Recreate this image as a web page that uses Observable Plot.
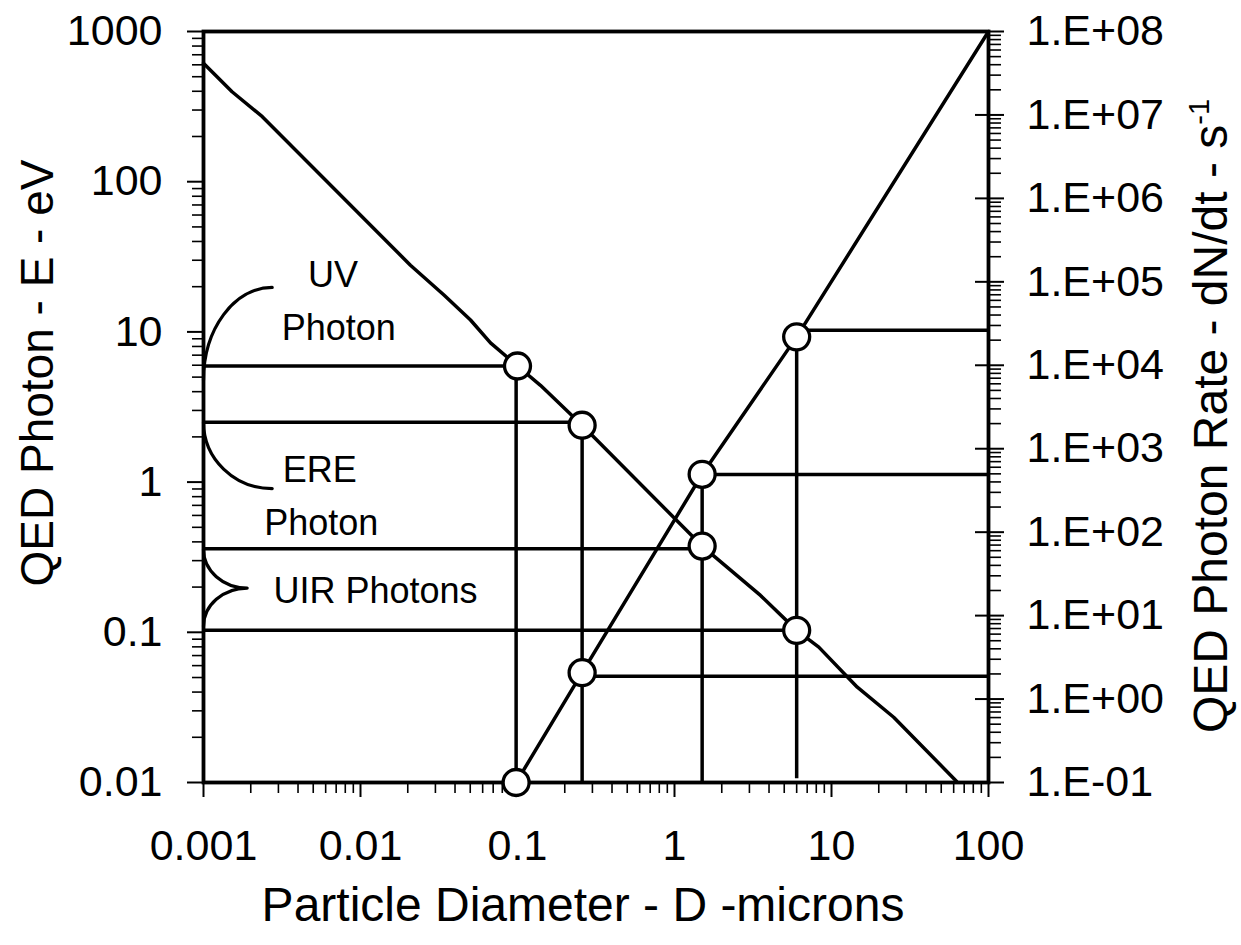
<!DOCTYPE html>
<html><head><meta charset="utf-8">
<script src="https://cdn.jsdelivr.net/npm/d3@7"></script>
<script src="https://cdn.jsdelivr.net/npm/@observablehq/plot@0.6"></script>
<style>body{margin:0;background:#fff;color:#000;}</style>
</head><body><div id="chart"></div>
<script>
// ---- data ----
const energyD = [0.001, 0.00152, 0.00237, 0.0208, 0.034, 0.0502, 0.0673, 0.1, 0.140, 0.258, 1.5, 3.53, 6.0, 8.3, 14.6, 24.9, 62.5];
const energyE = [614, 397, 271, 27.8, 17.6, 12.0, 8.45, 5.93, 4.41, 2.39, 0.375, 0.176, 0.103, 0.0797, 0.0431, 0.0272, 0.0102];
const rateD = [0.098, 0.258, 1.5, 6.0, 100];
const rateR = [0.1, 2.07, 494, 21900, 1e8];
const markerED = [0.1, 0.258, 1.5, 6.0];
const markerE = [5.93, 2.39, 0.375, 0.103];
const markerRD = [0.098, 0.258, 1.5, 6.0];
const markerR = [0.1, 2.07, 494, 21900];
const photonLineD = [0.1, 0.258, 1.5, 6.0];
const photonLineE = [5.93, 2.5, 0.36, 0.103];
const rateLineD = [0.258, 1.5, 6.0];
const rateLineR = [1.87, 490, 26300];
const guideD = [0.098, 0.258, 1.5, 6.0];
const guideTopE = [5.93, 2.39, null, null];
const guideTopR = [null, null, 494, 21900];
const guideBottomE = [0.01, 0.01, 0.01, 0.0106];

const xTicks = [0.001, 0.01, 0.1, 1, 10, 100];
const xTickLabels = ["0.001", "0.01", "0.1", "1", "10", "100"];
const yTicks = [0.01, 0.1, 1, 10, 100, 1000];
const yTickLabels = ["0.01", "0.1", "1", "10", "100", "1000"];
const rTicks = [1e-1, 1e0, 1e1, 1e2, 1e3, 1e4, 1e5, 1e6, 1e7, 1e8];
const rTickLabels = ["1.E-01", "1.E+00", "1.E+01", "1.E+02", "1.E+03", "1.E+04", "1.E+05", "1.E+06", "1.E+07", "1.E+08"];

const eDomain = [0.01, 1000];
const rDomain = [0.1, 1e8];
const dDomain = [0.001, 100];

// bracket annotations (start, corner, end ...)
const bracketUV = [[0.001, 4.77], [0.001, 19.77], [0.002739, 19.77]];
const bracketERE = [[0.001, 2.513], [0.001, 0.905], [0.002739, 0.905]];
const bracketUIR = [[0.001, 0.3566], [0.001, 0.197], [0.0018977, 0.197], [0.001, 0.197], [0.001, 0.1095]];

const labelText = ["UV", "Photon", "ERE", "Photon", "UIR Photons"];
const labelD = [0.00668, 0.007274, 0.005506, 0.005619, 0.012463];
const labelE = [19.94, 8.805, 1.0, 0.442, 0.1565];

// ---- helpers ----
function rateToE(r) {
  const t = (Math.log10(r) - Math.log10(rDomain[0])) / (Math.log10(rDomain[1]) - Math.log10(rDomain[0]));
  return Math.pow(10, Math.log10(eDomain[0]) + t * (Math.log10(eDomain[1]) - Math.log10(eDomain[0])));
}
function minors(lo, hi) {
  const out = [];
  for (let e = lo; e < hi; e++) for (let m = 2; m <= 9; m++) out.push(m * Math.pow(10, e));
  return out;
}
function lookup(ticks, labels) {
  return d => {
    const i = ticks.findIndex(v => Math.abs(Math.log10(v) - Math.log10(d)) < 1e-6);
    return i >= 0 ? labels[i] : "";
  };
}
// quarter-ellipse curve: points given as start, corner, end, corner, end ...
function quarterCurve(context) {
  let pts = [];
  return {
    areaStart() {}, areaEnd() {},
    lineStart() { pts = []; },
    point(x, y) { pts.push([+x, +y]); },
    lineEnd() {
      if (!pts.length) return;
      const k = 0.5523;
      context.moveTo(pts[0][0], pts[0][1]);
      for (let i = 1; i + 1 < pts.length; i += 2) {
        const p0 = pts[i - 1], c = pts[i], p2 = pts[i + 1];
        context.bezierCurveTo(
          p0[0] + k * (c[0] - p0[0]), p0[1] + k * (c[1] - p0[1]),
          p2[0] + k * (c[0] - p2[0]), p2[1] + k * (c[1] - p2[1]),
          p2[0], p2[1]);
      }
    }
  };
}

// ---- tables ----
const energy = energyD.map((d, i) => ({D: d, E: energyE[i]}));
const rate = rateD.map((d, i) => ({D: d, E: rateToE(rateR[i])}));
const markers = [
  ...markerED.map((d, i) => ({D: d, E: markerE[i]})),
  ...markerRD.map((d, i) => ({D: d, E: rateToE(markerR[i])}))
];
const leftLines = photonLineD.map((d, i) => ({x1: dDomain[0], x2: d, E: photonLineE[i]}));
const rightLines = rateLineD.map((d, i) => ({x1: d, x2: dDomain[1], E: rateToE(rateLineR[i])}));
const guides = guideD.map((d, i) => ({D: d, y1: guideBottomE[i], y2: guideTopE[i] != null ? guideTopE[i] : rateToE(guideTopR[i])}));
const brackets = [
  ...bracketUV.map(p => ({z: "UV", D: p[0], E: p[1]})),
  ...bracketERE.map(p => ({z: "ERE", D: p[0], E: p[1]})),
  ...bracketUIR.map(p => ({z: "UIR", D: p[0], E: p[1]}))
];
const labels = labelText.map((t, i) => ({t, D: labelD[i], E: labelE[i]}));
const rightTickTable = rTicks.map((r, i) => ({E: rateToE(r), label: rTickLabels[i]}));
const rTicksE = rightTickTable.map(d => d.E);

const W = 3.5;
const FS = 43;
const chart = Plot.plot({
  width: 1241, height: 945,
  marginLeft: 203, marginRight: 253, marginTop: 31, marginBottom: 163,
  style: {fontFamily: '"Liberation Sans", Arial, sans-serif', fontSize: FS + "px", background: "white", color: "black", overflow: "visible"},
  x: {type: "log", domain: dDomain, axis: null, label: null},
  y: {type: "log", domain: eDomain, axis: null, label: null},
  marks: [
    // axes: left
    Plot.axisY(minors(-2, 3), {anchor: "left", tickSize: 11, strokeWidth: 1.6, tickFormat: () => "", label: null}),
    Plot.axisY(yTicks, {anchor: "left", tickSize: 16, tickPadding: 25, strokeWidth: 2, tickFormat: lookup(yTicks, yTickLabels), fontSize: FS, label: null}),
    // bottom
    Plot.axisX(minors(-3, 2), {anchor: "bottom", tickSize: 11, strokeWidth: 1.6, tickFormat: () => "", label: null}),
    Plot.axisX(xTicks, {anchor: "bottom", tickSize: 15, tickPadding: 32, strokeWidth: 2, tickFormat: lookup(xTicks, xTickLabels), fontSize: FS, label: null}),
    // right
    Plot.axisY(minors(-1, 8).map(rateToE), {anchor: "right", tickSize: 12, strokeWidth: 1.6, tickFormat: () => "", label: null}),
    Plot.axisY(rTicksE, {anchor: "right", tickSize: 29, dx: -14, strokeWidth: 2, tickFormat: () => "", label: null}),
    Plot.text(rightTickTable, {y: "E", text: "label", frameAnchor: "right", textAnchor: "start", lineAnchor: "middle", dx: 38, fontSize: FS, fill: "black"}),
    // guide lines
    Plot.ruleY(leftLines, {y: "E", x1: "x1", x2: "x2", stroke: "black", strokeWidth: W}),
    Plot.ruleY(rightLines, {y: "E", x1: "x1", x2: "x2", stroke: "black", strokeWidth: W}),
    Plot.ruleX(guides, {x: "D", y1: "y1", y2: "y2", stroke: "black", strokeWidth: W}),
    // curves
    Plot.line(energy, {x: "D", y: "E", stroke: "black", strokeWidth: W, strokeLinejoin: "round"}),
    Plot.line(rate, {x: "D", y: "E", stroke: "black", strokeWidth: W, strokeLinejoin: "round"}),
    // brackets
    Plot.line(brackets, {x: "D", y: "E", z: "z", curve: quarterCurve, stroke: "black", strokeWidth: 3.2}),
    // frame
    Plot.frame({stroke: "black", strokeWidth: 3.8}),
    // markers
    Plot.dot(markers, {x: "D", y: "E", r: 13, fill: "white", stroke: "black", strokeWidth: 3.3}),
    // annotation labels
    Plot.text(labels, {x: "D", y: "E", text: "t", fontSize: 36, textAnchor: "middle", lineAnchor: "bottom", fill: "black"}),
    // axis titles
    Plot.text(["Particle Diameter - D -microns"], {text: d => d, frameAnchor: "bottom", textAnchor: "middle", dx: -13, dy: 138, lineAnchor: "bottom", fontSize: 48, fill: "black"}),
    Plot.text(["QED Photon - E - eV"], {text: d => d, frameAnchor: "left", textAnchor: "middle", dx: -151, dy: -34, rotate: -90, lineAnchor: "bottom", fontSize: 46, fill: "black"}),
    Plot.text(["QED Photon Rate - dN/dt - s"], {text: d => d, frameAnchor: "right", textAnchor: "middle", dx: 238, dy: 9, rotate: -90, lineAnchor: "bottom", fontSize: 48, fill: "black"})
  ]
});
document.getElementById("chart").appendChild(chart);
d3.select(chart).selectAll("text")
  .filter(function() { return this.textContent === "QED Photon Rate - dN/dt - s"; })
  .append("tspan").attr("dy", "-0.6em").attr("font-size", "29px").text("-1");
</script>
</body></html>
